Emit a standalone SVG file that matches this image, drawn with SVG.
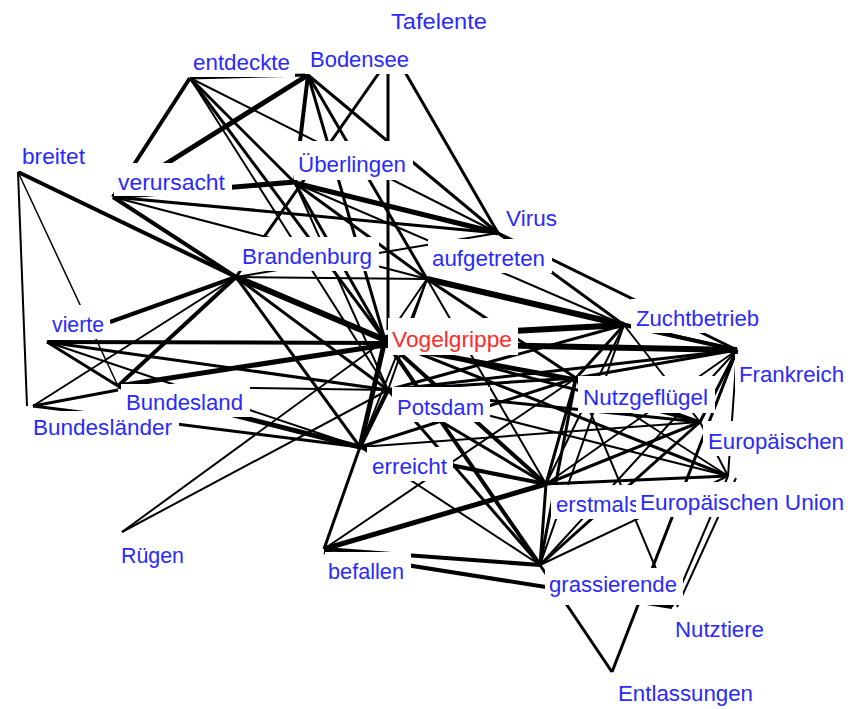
<svg xmlns="http://www.w3.org/2000/svg" width="853" height="709" viewBox="0 0 853 709">
<style>
line{stroke:#000;stroke-linecap:butt}
.w1{stroke-width:1.5}.w2{stroke-width:2}.w3{stroke-width:3}.w4{stroke-width:4}.w5{stroke-width:5}.w6{stroke-width:6}
rect.bg{fill:#fff}
text{font-family:"Liberation Sans",Arial,sans-serif;font-size:22px;fill:#2a2aff}
text.hot{fill:#ff2a2a}
</style>
<rect width="853" height="709" fill="#fff"/>
<g id="connectors">
<line class="w3" x1="190" y1="78" x2="308" y2="75"/>
<line class="w4" x1="190" y1="78" x2="113" y2="197"/>
<line class="w5" x1="308" y1="75" x2="113" y2="197"/>
<line class="w3" x1="190" y1="78" x2="295" y2="183"/>
<line class="w2" x1="190" y1="78" x2="498" y2="233"/>
<line class="w3" x1="190" y1="78" x2="385" y2="340"/>
<line class="w2" x1="190" y1="78" x2="388" y2="390"/>
<line class="w4" x1="308" y1="75" x2="295" y2="183"/>
<line class="w3" x1="308" y1="75" x2="385" y2="340"/>
<line class="w3" x1="308" y1="75" x2="427" y2="279"/>
<line class="w3" x1="308" y1="75" x2="498" y2="233"/>
<line class="w3" x1="388" y1="60" x2="388" y2="330"/>
<line class="w3" x1="388" y1="60" x2="236" y2="277"/>
<line class="w3" x1="398" y1="60" x2="498" y2="233"/>
<line class="w5" x1="113" y1="197" x2="295" y2="182"/>
<line class="w4" x1="113" y1="197" x2="236" y2="277"/>
<line class="w3" x1="113" y1="197" x2="498" y2="233"/>
<line class="w2" x1="113" y1="197" x2="427" y2="279"/>
<line class="w4" x1="18" y1="172" x2="236" y2="277"/>
<line class="w1" x1="18" y1="172" x2="118" y2="386"/>
<line class="w2" x1="18" y1="172" x2="27" y2="406"/>
<line class="w5" x1="295" y1="183" x2="498" y2="233"/>
<line class="w3" x1="295" y1="183" x2="427" y2="279"/>
<line class="w3" x1="295" y1="183" x2="385" y2="340"/>
<line class="w2" x1="295" y1="183" x2="388" y2="390"/>
<line class="w2" x1="295" y1="183" x2="624" y2="325"/>
<line class="w2" x1="236" y1="277" x2="498" y2="233"/>
<line class="w6" x1="236" y1="277" x2="385" y2="340"/>
<line class="w3" x1="236" y1="277" x2="388" y2="390"/>
<line class="w3" x1="236" y1="277" x2="360" y2="447"/>
<line class="w4" x1="236" y1="277" x2="110" y2="322"/>
<line class="w4" x1="236" y1="277" x2="118" y2="386"/>
<line class="w2" x1="236" y1="277" x2="33" y2="406"/>
<line class="w2" x1="236" y1="277" x2="427" y2="279"/>
<line class="w4" x1="47" y1="342" x2="385" y2="343"/>
<line class="w3" x1="47" y1="342" x2="118" y2="386"/>
<line class="w3" x1="47" y1="342" x2="388" y2="390"/>
<line class="w2" x1="47" y1="342" x2="360" y2="447"/>
<line class="w5" x1="118" y1="386" x2="385" y2="345"/>
<line class="w2" x1="118" y1="386" x2="388" y2="390"/>
<line class="w5" x1="118" y1="386" x2="360" y2="447"/>
<line class="w3" x1="118" y1="390" x2="33" y2="406"/>
<line class="w3" x1="33" y1="406" x2="360" y2="447"/>
<line class="w2" x1="122" y1="532" x2="385" y2="340"/>
<line class="w2" x1="122" y1="532" x2="388" y2="390"/>
<line class="w5" x1="360" y1="447" x2="385" y2="340"/>
<line class="w4" x1="360" y1="447" x2="388" y2="390"/>
<line class="w3" x1="360" y1="447" x2="324" y2="549"/>
<line class="w2" x1="360" y1="447" x2="540" y2="565"/>
<line class="w4" x1="360" y1="447" x2="546" y2="484"/>
<line class="w3" x1="360" y1="447" x2="576" y2="378"/>
<line class="w2" x1="360" y1="447" x2="700" y2="422"/>
<line class="w2" x1="324" y1="549" x2="576" y2="378"/>
<line class="w5" x1="324" y1="549" x2="546" y2="484"/>
<line class="w4" x1="324" y1="549" x2="540" y2="565"/>
<line class="w4" x1="324" y1="552" x2="672" y2="607"/>
<line class="w4" x1="385" y1="340" x2="540" y2="565"/>
<line class="w3" x1="388" y1="390" x2="540" y2="565"/>
<line class="w3" x1="540" y1="565" x2="612" y2="672"/>
<line class="w3" x1="540" y1="565" x2="546" y2="484"/>
<line class="w3" x1="540" y1="565" x2="700" y2="422"/>
<line class="w2" x1="540" y1="565" x2="728" y2="476"/>
<line class="w3" x1="540" y1="565" x2="576" y2="378"/>
<line class="w2" x1="540" y1="565" x2="624" y2="325"/>
<line class="w2" x1="540" y1="565" x2="737" y2="350"/>
<line class="w3" x1="612" y1="672" x2="737" y2="350"/>
<line class="w2" x1="672" y1="607" x2="576" y2="378"/>
<line class="w2" x1="672" y1="607" x2="728" y2="476"/>
<line class="w2" x1="677" y1="607" x2="736" y2="478"/>
<line class="w4" x1="624" y1="325" x2="737" y2="350"/>
<line class="w3" x1="624" y1="325" x2="576" y2="378"/>
<line class="w3" x1="624" y1="325" x2="388" y2="390"/>
<line class="w2" x1="624" y1="325" x2="546" y2="484"/>
<line class="w2" x1="624" y1="325" x2="700" y2="422"/>
<line class="w3" x1="737" y1="350" x2="576" y2="378"/>
<line class="w3" x1="737" y1="350" x2="700" y2="422"/>
<line class="w2" x1="737" y1="350" x2="728" y2="476"/>
<line class="w3" x1="737" y1="350" x2="388" y2="390"/>
<line class="w2" x1="737" y1="350" x2="546" y2="484"/>
<line class="w6" x1="385" y1="338" x2="624" y2="325"/>
<line class="w6" x1="385" y1="343" x2="737" y2="350"/>
<line class="w5" x1="385" y1="345" x2="576" y2="380"/>
<line class="w3" x1="385" y1="340" x2="700" y2="422"/>
<line class="w3" x1="385" y1="340" x2="728" y2="476"/>
<line class="w4" x1="385" y1="340" x2="546" y2="484"/>
<line class="w2" x1="385" y1="340" x2="427" y2="279"/>
<line class="w6" x1="427" y1="279" x2="624" y2="325"/>
<line class="w3" x1="427" y1="279" x2="737" y2="350"/>
<line class="w3" x1="427" y1="279" x2="576" y2="378"/>
<line class="w2" x1="427" y1="279" x2="388" y2="390"/>
<line class="w2" x1="427" y1="279" x2="360" y2="447"/>
<line class="w2" x1="427" y1="279" x2="546" y2="484"/>
<line class="w3" x1="498" y1="233" x2="624" y2="325"/>
<line class="w3" x1="498" y1="233" x2="737" y2="350"/>
<line class="w3" x1="388" y1="390" x2="576" y2="378"/>
<line class="w3" x1="388" y1="390" x2="546" y2="484"/>
<line class="w3" x1="388" y1="390" x2="700" y2="422"/>
<line class="w2" x1="388" y1="390" x2="728" y2="476"/>
<line class="w3" x1="546" y1="484" x2="700" y2="422"/>
<line class="w3" x1="546" y1="484" x2="728" y2="476"/>
<line class="w3" x1="546" y1="484" x2="576" y2="378"/>
<line class="w3" x1="576" y1="378" x2="700" y2="422"/>
<line class="w2" x1="576" y1="378" x2="728" y2="476"/>
<line class="w2" x1="700" y1="422" x2="728" y2="476"/>
</g>
<g id="n-tafelente"><rect class="bg" x="386" y="2" width="107" height="35"/><text x="391" y="29" textLength="96" lengthAdjust="spacingAndGlyphs">Tafelente</text></g>
<g id="n-entdeckte"><rect class="bg" x="188" y="43" width="107" height="34"/><text x="193" y="70" textLength="97" lengthAdjust="spacingAndGlyphs">entdeckte</text></g>
<g id="n-bodensee"><rect class="bg" x="305" y="40" width="110" height="34"/><text x="310" y="67" textLength="99" lengthAdjust="spacingAndGlyphs">Bodensee</text></g>
<g id="n-breitet"><rect class="bg" x="17" y="137" width="74" height="34"/><text x="22" y="164" textLength="63" lengthAdjust="spacingAndGlyphs">breitet</text></g>
<g id="n-verursacht"><rect class="bg" x="114" y="163" width="118" height="33"/><text x="118" y="190" textLength="107" lengthAdjust="spacingAndGlyphs">verursacht</text></g>
<g id="n-ueberlingen"><rect class="bg" x="294" y="141" width="119" height="39"/><text x="298" y="172" textLength="108" lengthAdjust="spacingAndGlyphs">Überlingen</text></g>
<g id="n-virus"><rect class="bg" x="502" y="199" width="61" height="33"/><text x="506" y="226" textLength="51" lengthAdjust="spacingAndGlyphs">Virus</text></g>
<g id="n-brandenburg"><rect class="bg" x="238" y="237" width="141" height="34"/><text x="242" y="264" textLength="130" lengthAdjust="spacingAndGlyphs">Brandenburg</text></g>
<g id="n-aufgetreten"><rect class="bg" x="428" y="239" width="124" height="34"/><text x="432" y="266" textLength="113" lengthAdjust="spacingAndGlyphs">aufgetreten</text></g>
<g id="n-vierte"><rect class="bg" x="48" y="305" width="62" height="34"/><text x="52" y="332" textLength="52" lengthAdjust="spacingAndGlyphs">vierte</text></g>
<g id="n-vogelgrippe"><rect class="bg" x="388" y="318" width="130" height="37"/><text class="hot" x="392" y="347" textLength="120" lengthAdjust="spacingAndGlyphs">Vogelgrippe</text></g>
<g id="n-zuchtbetrieb"><rect class="bg" x="631" y="299" width="134" height="34"/><text x="636" y="326" textLength="123" lengthAdjust="spacingAndGlyphs">Zuchtbetrieb</text></g>
<g id="n-frankreich"><rect class="bg" x="735" y="354" width="115" height="35"/><text x="739" y="382" textLength="105" lengthAdjust="spacingAndGlyphs">Frankreich</text></g>
<g id="n-nutzgefluegel"><rect class="bg" x="578" y="376" width="137" height="37"/><text x="583" y="405" textLength="125" lengthAdjust="spacingAndGlyphs">Nutzgeflügel</text></g>
<g id="n-bundeslaender"><rect class="bg" x="29" y="411" width="150" height="31"/><text x="33" y="435" textLength="139" lengthAdjust="spacingAndGlyphs">Bundesländer</text></g>
<g id="n-bundesland"><rect class="bg" x="121" y="384" width="129" height="33"/><text x="126" y="410" textLength="117" lengthAdjust="spacingAndGlyphs">Bundesland</text></g>
<g id="n-potsdam"><rect class="bg" x="392" y="387" width="98" height="35"/><text x="397" y="415" textLength="87" lengthAdjust="spacingAndGlyphs">Potsdam</text></g>
<g id="n-europaeischen"><rect class="bg" x="703" y="421" width="147" height="35"/><text x="708" y="449" textLength="136" lengthAdjust="spacingAndGlyphs">Europäischen</text></g>
<g id="n-erreicht"><rect class="bg" x="367" y="447" width="86" height="34"/><text x="372" y="474" textLength="75" lengthAdjust="spacingAndGlyphs">erreicht</text></g>
<g id="n-erstmals"><rect class="bg" x="551" y="485" width="94" height="34"/><text x="556" y="512" textLength="84" lengthAdjust="spacingAndGlyphs">erstmals</text></g>
<g id="n-europaeischen-union"><rect class="bg" x="636" y="482" width="214" height="35"/><text x="640" y="510" textLength="204" lengthAdjust="spacingAndGlyphs">Europäischen Union</text></g>
<g id="n-ruegen"><rect class="bg" x="117" y="535" width="73" height="36"/><text x="121" y="563" textLength="63" lengthAdjust="spacingAndGlyphs">Rügen</text></g>
<g id="n-befallen"><rect class="bg" x="325" y="552" width="86" height="35"/><text x="328" y="579" textLength="76" lengthAdjust="spacingAndGlyphs">befallen</text></g>
<g id="n-grassierende"><rect class="bg" x="545" y="568" width="138" height="37"/><text x="549" y="592" textLength="128" lengthAdjust="spacingAndGlyphs">grassierende</text></g>
<g id="n-nutztiere"><rect class="bg" x="671" y="610" width="100" height="36"/><text x="675" y="637" textLength="89" lengthAdjust="spacingAndGlyphs">Nutztiere</text></g>
<g id="n-entlassungen"><rect class="bg" x="614" y="675" width="146" height="34"/><text x="618" y="701" textLength="135" lengthAdjust="spacingAndGlyphs">Entlassungen</text></g>
</svg>
